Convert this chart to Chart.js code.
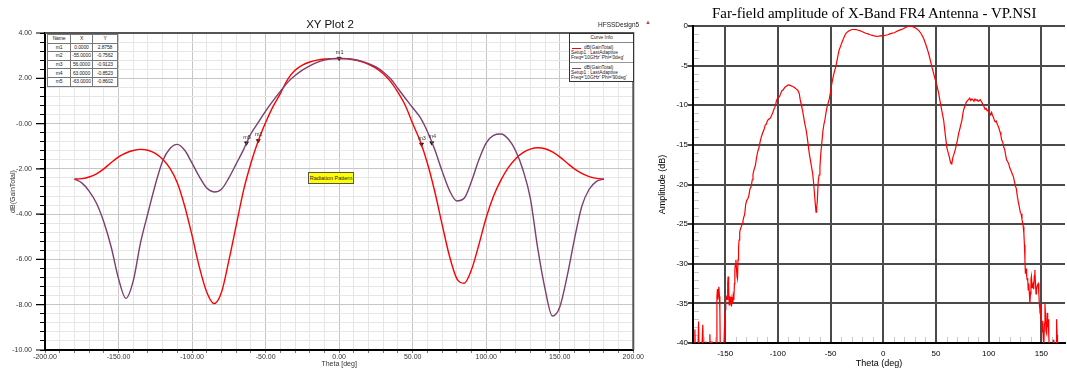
<!DOCTYPE html>
<html>
<head>
<meta charset="utf-8">
<title>XY Plot 2 / Far-field amplitude</title>
<script src="https://cdn.jsdelivr.net/npm/chart.js@4.4.1/dist/chart.umd.min.js"></script>
<style>
  body { margin: 0; width: 1067px; height: 369px; background: #fff; position: relative; overflow: hidden; font-family: "Liberation Sans", Arial, sans-serif; }
  #hfssWrap { position: absolute; left: 0; top: 0; width: 644px; height: 369px; }
  #nsiWrap { position: absolute; left: 644px; top: 0; width: 423px; height: 369px; }
  .txt { position: absolute; white-space: nowrap; color: #111; }
  #markerTable { position: absolute; left: 47px; top: 34px; width: 70px; table-layout: fixed; border-collapse: collapse; border: 1.5px solid #222; background: #fff; font-size: 5px; color: #222; letter-spacing: -0.15px; }
  #markerTable td, #markerTable th { border: 1px solid #777; padding: 0; height: 7.6px; line-height: 7px; text-align: center; font-weight: normal; overflow: hidden; white-space: nowrap; }
  #curveInfo { position: absolute; left: 569px; top: 33px; width: 63px; height: 47px; border: 1.5px solid #333; background: #fff; font-size: 4.8px; color: #222; }
  #curveInfo .head { text-align: center; border-bottom: 1px solid #888; height: 8px; line-height: 8px; }
  #curveInfo .entry { position: relative; height: 19px; border-bottom: 1px solid #999; }
  #curveInfo .entry:last-child { border-bottom: none; }
  #curveInfo .swatch { position: absolute; left: 2px; top: 4.5px; width: 9px; height: 1.5px; }
  #curveInfo .ln { position: absolute; left: 1px; line-height: 5px; white-space: nowrap; }
  #radPattern { position: absolute; left: 308px; top: 172px; width: 44px; height: 10px; background: #ffff00; border: 1px solid #555; font-size: 5.5px; line-height: 10px; text-align: center; color: #222; }
</style>
</head>
<body>
<div id="hfssWrap"><canvas id="hfssChart"></canvas></div>
<div id="nsiWrap"><canvas id="nsiChart"></canvas></div>

<div class="txt" style="left:290px; top:18px; width:80px; text-align:center; font-size:11.5px;">XY Plot 2</div>
<div class="txt" style="left:598px; top:21px; font-size:6.5px; color:#222;">HFSSDesign5</div>
<div class="txt" style="left:645px; top:19px; font-size:6px; color:#c04848;">▲</div>
<table id="markerTable"></table>
<div id="curveInfo"><div class="head">Curve Info</div></div>
<div id="radPattern">Radiation Pattern</div>
<div class="txt" style="left:712px; top:5px; font-family:'Liberation Serif', 'Times New Roman', serif; font-size:15px; color:#000;">Far-field amplitude of X-Band FR4 Antenna - VP.NSI</div>

<script>
// ---- HFSS simulation (XY Plot 2) ----
const thetaDeg = [-180, -175, -170, -165, -160, -155, -150, -145, -140, -135, -130, -125, -120, -115, -110, -105, -100, -95, -90, -85, -80, -75, -70, -65, -60, -55, -50, -45, -40, -35, -30, -25, -20, -15, -10, -5,
  0, 5, 10, 15, 20, 25, 30, 35, 40, 45, 50, 55, 60, 65, 70, 75, 80, 85, 90, 95, 100, 105, 110, 115, 120, 125, 130, 135, 140, 145, 150, 155, 160, 165, 170, 175, 180];
const gainPhi0 = [-2.45, -2.43, -2.36, -2.22, -2.00, -1.72, -1.47, -1.30, -1.19, -1.14, -1.18, -1.32, -1.58, -1.98, -2.62, -3.65, -4.95, -6.35, -7.45, -7.95, -7.45, -6.05, -4.50, -2.95, -1.75, -0.76, 0.05, 0.75, 1.32, 1.95, 2.35, 2.58, 2.72, 2.80, 2.85, 2.87,
  2.876, 2.86, 2.82, 2.74, 2.62, 2.45, 2.20, 1.85, 1.38, 0.80, 0.00, -0.76, -1.75, -3.00, -4.45, -5.85, -6.85, -7.05, -6.45, -5.35, -4.15, -3.20, -2.50, -1.95, -1.55, -1.28, -1.13, -1.07, -1.11, -1.25, -1.47, -1.74, -2.00, -2.20, -2.34, -2.42, -2.45];
const gainPhi90 = [-2.45, -2.62, -2.98, -3.52, -4.35, -5.45, -6.85, -7.72, -6.95, -5.25, -3.95, -2.70, -1.65, -1.10, -0.92, -1.18, -1.75, -2.35, -2.85, -3.02, -2.90, -2.40, -1.78, -1.15, -0.45, 0.05, 0.55, 1.00, 1.42, 1.82, 2.12, 2.36, 2.55, 2.70, 2.80, 2.86,
  2.876, 2.87, 2.83, 2.76, 2.65, 2.50, 2.28, 1.98, 1.55, 1.12, 0.70, 0.28, -0.35, -1.15, -2.10, -2.95, -3.42, -3.30, -2.55, -1.60, -0.85, -0.52, -0.46, -0.68, -1.20, -2.05, -3.30, -5.50, -7.30, -8.50, -8.10, -6.75, -5.10, -3.65, -2.90, -2.55, -2.45];
const markerNames = ["m1", "m2", "m3", "m4", "m5"];
const markerTheta = [0, -55, 56, 63, -63];
const markerGain = [2.8758, -0.7562, -0.9123, -0.8523, -0.8602];
const seriesPhi = ["0deg", "90deg"];
const seriesColors = ["#ff0000", "#7d3f6e"];

// ---- NSI measurement ----
const nsiTheta = [-180, -179.2, -178.7, -178.2, -176, -175.2, -174.6, -172.5, -171.2, -170.6, -168.8, -168.3, -167.8, -165.2, -164.5, -163.9, -163.2, -162.6,
  -159, -158.4, -157.8, -157.3, -156.8, -156, -155.4, -155, -154.5, -152, -151.2, -150.6, -150, -149.4, -148.8, -148.2, -147.6, -147.2, -146.7, -146.2, -145.6,
  -145, -144.4, -144, -143.4, -142.8, -142.4, -141.8, -141.2, -140.8, -140.3, -139.8, -139.3, -138.8, -138.3, -137.8, -137.3, -136.8, -136.2, -135.5, -134.6,
  -133.8, -133.1, -132.3, -131.5, -130.5, -129.5, -128.5, -127.5, -126.5, -125.2, -124.3, -123.6, -122.5, -121.3, -120.2, -119, -118, -116.8, -115.7, -114.5,
  -113.2, -112, -111, -110, -109, -108, -107, -106, -105, -104, -103, -102, -101.3, -100.5, -99.5, -98.4, -97.5, -96.4, -95.3, -94.2, -93.1, -92, -91, -90,
  -89, -88, -87, -86, -85, -84, -83, -82, -81.2, -80.4, -79.6, -78.8, -78, -77.2, -76.5, -75.6, -75, -74, -73.2, -72.2, -71.3, -70.3, -69.2, -68, -67, -66,
  -65.2, -64.4, -63.8, -63.2, -62.6, -61.7, -60.9, -60.1, -59.2, -58.2, -57.2, -56.3, -55.3, -54.4, -53.3, -52.2, -51.2, -50, -49, -48.1, -47, -46, -45,
  -43.8, -42.8, -41.8, -40.6, -39.6, -38.7, -37.5, -36.5, -35.5, -34, -32.5, -31, -29.3, -27.7, -26, -24.3, -22.5, -20.7, -18.8, -16.6, -14.5, -12.5, -10.4,
  -8.5, -6.3, -4.1, -2, 0, 2.3, 4.2, 6.2, 8.5, 10.5, 12.5, 14.8, 16.9, 19, 21.1, 22.7, 24.3, 25.8, 27.4, 29, 30.6, 32.2, 33.7, 35.3, 36.8, 38.4, 40, 41.5,
  43.1, 44.6, 46.2, 47.8, 49.4, 51, 52.6, 54, 55.7, 57.3, 58.9, 60.4, 61.8, 62.8, 63.6, 64.4, 65.1, 66, 67, 68.3, 69.5, 70.5, 71.4, 72.6, 73.6, 74.6, 75.5,
  76.2, 77.5, 78.8, 80, 80.9, 82, 83, 84, 85, 86, 87, 88, 89, 90, 91, 92, 93.4, 94.5, 95.6, 96.6, 97.6, 98.6, 99.8, 100.8, 101.8, 102.8, 103.6, 104.5, 105.4,
  106.2, 107.2, 108.2, 109.2, 110, 110.8, 111.6, 112.3, 113.3, 114.3, 115.2, 116.1, 117, 118, 119, 120, 121, 122.2, 123.4, 124.4, 125.3, 126.2, 127.2, 128.1,
  129, 130, 130.8, 131.6, 132.4, 132.8, 133.4, 133.9, 134.4, 134.8, 135.2, 135.6, 136, 136.5, 137, 137.5, 138, 138.5, 139.1, 139.6, 140.1, 140.6, 141.1, 141.6,
  142.2, 142.7, 143.3, 143.8, 144.3, 144.9, 145.4, 146, 146.5, 147, 147.6, 148.1, 148.6, 149.1, 149.6, 150.2, 150.7, 151.2, 151.8, 152.3, 152.9, 153.4, 153.9,
  154.4, 155, 155.5, 156, 156.5, 157, 157.6, 158.1, 160.8, 161.3, 161.8, 163.9, 164.4, 164.9, 165.3, 172.4];
const nsiAmp = [-42, -42, -38.3, -42, -42, -37.3, -42, -42, -37.7, -42, -42, -39.8, -42, -42, -38.9, -42, -39.8, -42,
  -42, -40, -34.1, -33.2, -34.5, -32.9, -34.1, -36, -42, -42, -40.5, -37.9, -35.8, -34.5, -34.2, -34.5, -32.5, -31.6, -33.0, -35.2, -34.1,
  -34.8, -34.4, -35.4, -34.2, -35.0, -34.1, -34.6, -32.5, -30.8, -30.0, -29.5, -30.5, -31.6, -31.9, -29.5, -28.0, -27.0, -26.0, -25.6, -25.3,
  -24.9, -24.6, -24.1, -23.8, -22.5, -22.0, -21.8, -21.4, -20.6, -20.2, -19.4, -18.7, -18.1, -17.6, -16.6, -15.8, -15.4, -14.6, -14.0, -13.5,
  -13.1, -12.5, -12.4, -12.0, -11.8, -11.7, -11.6, -11.3, -11.0, -10.6, -10.3, -9.9, -9.4, -9.2, -9.0, -8.9, -8.6, -8.2, -8.1, -7.9, -7.7, -7.6, -7.5, -7.4,
  -7.5, -7.5, -7.6, -7.6, -7.7, -7.8, -7.9, -8.0, -8.1, -8.3, -8.6, -9.3, -9.8, -10.3, -10.7, -11.4, -11.9, -12.6, -13.1, -14.0, -14.9, -16.0, -16.9, -17.8, -18.6, -19.9,
  -21.3, -22.6, -23.5, -23.0, -22.1, -19.6, -18.8, -17.8, -16.0, -14.6, -13.2, -12.4, -11.8, -11.0, -10.2, -9.7, -9.2, -8.3, -7.4, -6.8, -6.1, -5.6, -5.1,
  -4.3, -3.6, -3.0, -2.6, -2.2, -1.9, -1.5, -1.2, -0.95, -0.75, -0.6, -0.5, -0.44, -0.44, -0.46, -0.5, -0.58, -0.66, -0.78, -0.92, -1.0, -1.1, -1.18,
  -1.25, -1.3, -1.28, -1.22, -1.26, -1.17, -1.1, -1.0, -0.9, -0.85, -0.7, -0.55, -0.45, -0.35, -0.2, -0.08, -0.02, -0.05, -0.05, -0.15, -0.25, -0.4, -0.58, -0.85, -1.17, -1.6, -2.2, -2.8,
  -3.5, -4.3, -5.2, -6.0, -6.8, -7.6, -8.5, -9.6, -10.8, -11.9, -13.8, -15.4, -16.1, -16.6, -17.1, -17.4, -17.3, -16.6, -16.2, -15.6, -14.9, -14.3, -13.6, -13.0, -12.4, -11.9, -11.1,
  -10.6, -10.1, -9.6, -9.4, -9.3, -9.1, -9.4, -9.2, -9.3, -9.5, -9.2, -9.4, -9.3, -9.5, -9.4, -9.3, -9.6, -9.9, -10.2, -10.5, -10.4, -10.7, -10.6, -10.9, -11.2, -10.9, -11.3, -11.5, -11.9,
  -12.1, -12.0, -12.4, -12.7, -13.0, -13.4, -13.8, -14.4, -14.6, -15.3, -15.6, -16.3, -16.9, -17.1, -17.4, -17.9, -18.2, -18.6, -19.0, -19.6, -20.2, -20.5, -21.5, -22.2,
  -22.8, -23.5, -23.7, -24.4, -25.0, -25.3, -26.2, -27.6, -29.5, -31.2, -31.0, -30.6, -31.5, -32.0, -31.8, -33.3, -32.5, -33.5, -35.0, -33.8, -32.0, -31.6, -33.0, -32.7,
  -32.5, -33.2, -31.5, -30.8, -32.2, -33.8, -33.3, -32.8, -32.6, -32.5, -33.8, -35.2, -35.8, -35.5, -36.8, -37.9, -38.6, -37.2, -39.5, -40.5, -37.5, -35.0, -36.5,
  -38.5, -38.8, -36.2, -38.0, -37.0, -39.0, -41.0, -42, -42, -39.6, -42, -42, -37.0, -39.0, -42, -42];

Chart.defaults.font.family = '"Liberation Sans", Arial, sans-serif';
Chart.defaults.color = "#222";

function isMult(v, m) {
  return Math.abs(v / m - Math.round(v / m)) < 1e-6;
}

function buildOverlays() {
  const table = document.getElementById("markerTable");
  table.innerHTML = `<colgroup><col style="width:23px"><col style="width:22px"><col style="width:25px"></colgroup>` +
    `<tr><th>Name</th><th>X</th><th>Y</th></tr>` +
    markerNames.map((n, i) => `<tr><td>${n}</td><td>${markerTheta[i].toFixed(4)}</td><td>${markerGain[i].toFixed(4)}</td></tr>`).join("");

  const info = document.getElementById("curveInfo");
  info.innerHTML += seriesPhi.map((phi, i) => `
    <div class="entry">
      <div class="swatch" style="background:${seriesColors[i]}"></div>
      <div class="ln" style="top:1.5px; left:14px">dB(GainTotal)</div>
      <div class="ln" style="top:6.5px">Setup1 : LastAdaptive</div>
      <div class="ln" style="top:11.5px">Freq='10GHz' Phi='${phi}'</div>
    </div>`).join("");
}

const hfssFrame = {
  id: "hfssFrame",
  afterDraw(chart) {
    const { ctx, chartArea: a, scales: { y } } = chart;
    ctx.save();
    ctx.strokeStyle = "#555";
    ctx.lineWidth = 2;
    ctx.beginPath();
    ctx.moveTo(a.left, a.top);
    ctx.lineTo(a.right, a.top);
    ctx.lineTo(a.right, a.bottom);
    ctx.stroke();
    // longer ticks at the labelled values
    ctx.strokeStyle = "#000";
    ctx.lineWidth = 1.2;
    ctx.beginPath();
    y.ticks.forEach(t => {
      if (isMult(t.value, 2)) {
        const py = y.getPixelForValue(t.value);
        ctx.moveTo(a.left - 9, py);
        ctx.lineTo(a.left, py);
      }
    });
    ctx.stroke();
    ctx.restore();
  }
};

const markerLabels = {
  id: "markerLabels",
  afterDatasetsDraw(chart) {
    const idx = chart.data.datasets.findIndex(d => d.label === "markers");
    const meta = chart.getDatasetMeta(idx);
    const ctx = chart.ctx;
    ctx.save();
    ctx.font = '5.5px "Liberation Sans", Arial, sans-serif';
    ctx.fillStyle = "#333";
    ctx.textAlign = "center";
    meta.data.forEach((pt, i) => ctx.fillText(markerNames[i], pt.x + 0.5, pt.y - 4.5));
    ctx.restore();
  }
};

const nsiMinorTicks = {
  id: "nsiMinorTicks",
  beforeDatasetsDraw(chart) {
    const { ctx, chartArea: a, scales: { x, y } } = chart;
    ctx.save();
    ctx.strokeStyle = "#c8c8c8";
    ctx.lineWidth = 1;
    ctx.beginPath();
    y.ticks.forEach(t => {
      if (!isMult(t.value, 5) && isMult(t.value, 1)) {
        const py = Math.round(y.getPixelForValue(t.value)) + 0.5;
        ctx.moveTo(a.left + 1, py);
        ctx.lineTo(a.left + 6, py);
      }
    });
    x.ticks.forEach(t => {
      if (isMult(t.value, 10) && !isMult(t.value, 50)) {
        const px = Math.round(x.getPixelForValue(t.value)) + 0.5;
        ctx.moveTo(px, a.bottom - 1);
        ctx.lineTo(px, a.bottom - 6);
      }
    });
    ctx.stroke();
    ctx.restore();
  }
};

function initHfss() {
  const el = document.getElementById("hfssChart");
  new Chart(el, {
    type: "line",
    data: {
      datasets: [
        {
          label: "Phi=90deg",
          data: thetaDeg.map((t, i) => ({ x: t, y: gainPhi90[i] })),
          borderColor: seriesColors[1],
          borderWidth: 1.4,
          pointRadius: 0,
          cubicInterpolationMode: "monotone"
        },
        {
          label: "Phi=0deg",
          data: thetaDeg.map((t, i) => ({ x: t, y: gainPhi0[i] })),
          borderColor: seriesColors[0],
          borderWidth: 1.4,
          pointRadius: 0,
          cubicInterpolationMode: "monotone"
        },
        {
          label: "markers",
          data: markerTheta.map((t, i) => ({ x: t, y: markerGain[i] })),
          showLine: false,
          pointStyle: "triangle",
          rotation: 180,
          pointRadius: 2.4,
          pointBackgroundColor: "#000",
          pointBorderColor: "#000",
          pointBorderWidth: 0.5
        }
      ]
    },
    options: {
      responsive: true,
      maintainAspectRatio: false,
      animation: false,
      layout: { padding: { top: 33, right: 2, left: 0, bottom: 0 } },
      plugins: { legend: { display: false }, tooltip: { enabled: false } },
      scales: {
        x: {
          type: "linear",
          min: -200,
          max: 200,
          afterFit: s => { s.height = 19; },
          ticks: {
            stepSize: 10,
            autoSkip: false,
            maxRotation: 0,
            padding: 0,
            font: { size: 7 },
            color: "#333",
            callback: v => isMult(v, 50) ? v.toFixed(2) : ""
          },
          grid: {
            color: c => isMult(c.tick.value, 50) ? "#c6c6c6" : "#e6e6e6",
            lineWidth: 1,
            tickLength: 3,
            tickColor: "#777"
          },
          border: { color: "#000", width: 2 },
          title: { display: true, text: "Theta [deg]", font: { size: 7 }, color: "#333", padding: { top: 0, bottom: 1 } }
        },
        y: {
          min: -10,
          max: 4,
          afterFit: s => { s.width = 45; },
          ticks: {
            stepSize: 0.4,
            autoSkip: false,
            padding: 8,
            font: { size: 7 },
            color: "#333",
            callback: v => isMult(v, 2) ? (v === 0 ? "-0.00" : v.toFixed(2)) : ""
          },
          grid: {
            color: c => isMult(c.tick.value, 2) ? "#c6c6c6" : "#e6e6e6",
            lineWidth: 1,
            tickLength: 5,
            tickColor: "#000"
          },
          border: { color: "#000", width: 2 },
          title: { display: true, text: "dB(GainTotal)", font: { size: 7 }, color: "#333", padding: { top: 9, bottom: 0 } }
        }
      }
    },
    plugins: [hfssFrame, markerLabels]
  });
}

function initNsi() {
  const el = document.getElementById("nsiChart");
  new Chart(el, {
    type: "line",
    data: {
      datasets: [{
        label: "VP.NSI",
        data: nsiTheta.map((t, i) => ({ x: t, y: nsiAmp[i] })),
        borderColor: "#ff0000",
        borderWidth: 1.2,
        pointRadius: 0,
        tension: 0
      }]
    },
    options: {
      responsive: true,
      maintainAspectRatio: false,
      animation: false,
      layout: { padding: { top: 26, right: 0, left: 0, bottom: 0 } },
      plugins: { legend: { display: false }, tooltip: { enabled: false } },
      scales: {
        x: {
          type: "linear",
          min: -180.5,
          max: 172.4,
          afterFit: s => { s.height = 26; },
          ticks: {
            stepSize: 10,
            autoSkip: false,
            maxRotation: 0,
            padding: 2,
            font: { size: 8 },
            color: "#000",
            callback: v => isMult(v, 50) ? String(v) : ""
          },
          grid: {
            color: c => isMult(c.tick.value, 50) ? "#4a4a4a" : "transparent",
            lineWidth: 2,
            tickLength: 4,
            tickColor: "transparent"
          },
          border: { color: "#000", width: 2 },
          title: { display: true, text: "Theta (deg)", font: { size: 9 }, color: "#000", padding: { top: 0, bottom: 0 } }
        },
        y: {
          min: -40,
          max: 0,
          afterFit: s => { s.width = 49; },
          ticks: {
            stepSize: 1,
            autoSkip: false,
            padding: 0,
            font: { size: 8 },
            color: "#000",
            callback: v => isMult(v, 5) ? String(v) : ""
          },
          grid: {
            color: c => isMult(c.tick.value, 5) ? "#4a4a4a" : "transparent",
            lineWidth: 2,
            tickLength: 5,
            tickColor: c => isMult(c.tick.value, 5) ? "#444" : "transparent"
          },
          border: { color: "#000", width: 2 },
          title: { display: true, text: "Amplitude (dB)", font: { size: 9 }, color: "#000", padding: { top: 13.6, bottom: 0 } }
        }
      }
    },
    plugins: [nsiMinorTicks]
  });
}

document.addEventListener("DOMContentLoaded", () => {
  buildOverlays();
  initHfss();
  initNsi();
});
</script>
</body>
</html>
